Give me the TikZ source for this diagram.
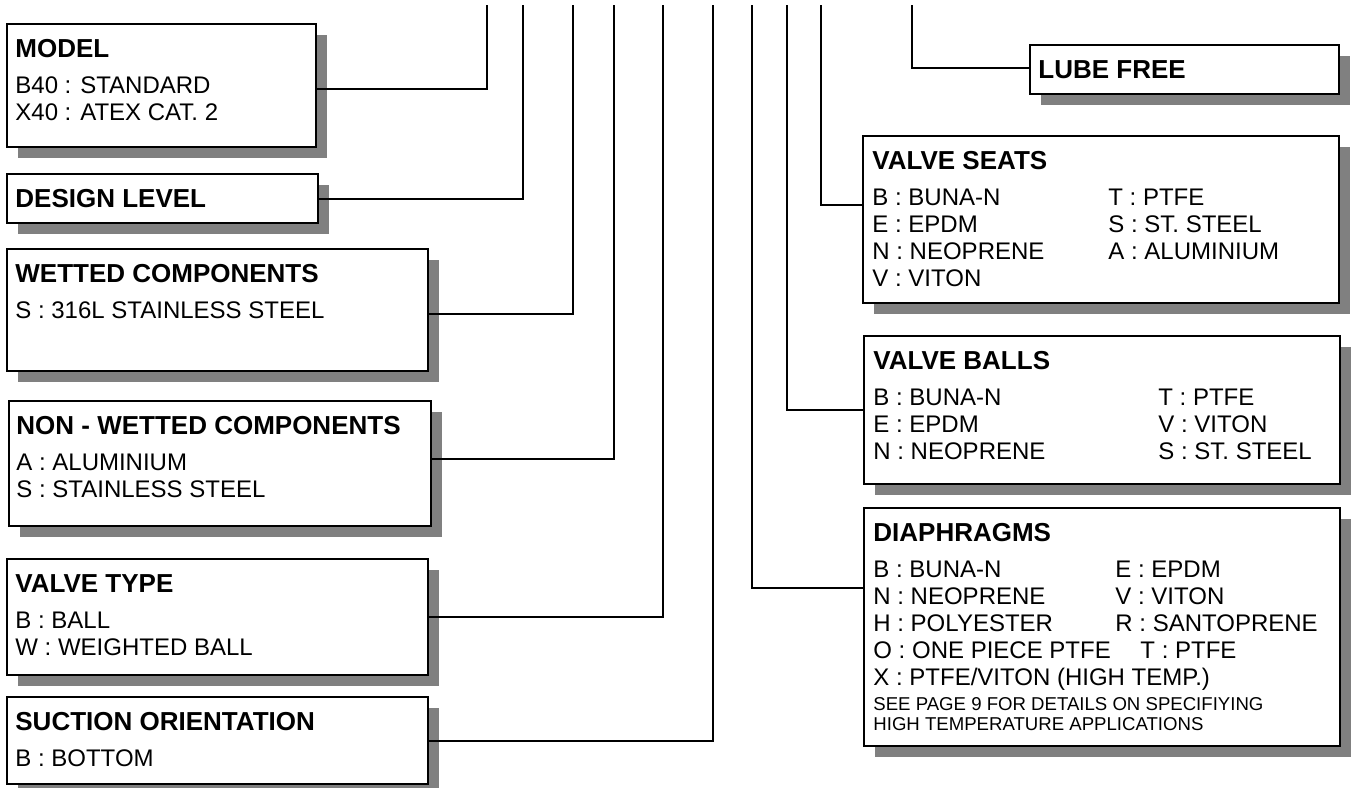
\documentclass[tikz,border=0pt]{standalone}
\usepackage{fontspec}
\setmainfont{Liberation Sans}
\usetikzlibrary{positioning,shadows}
\definecolor{shade}{gray}{0.5}
\begin{document}
\begin{tikzpicture}[x=0.5pt,y=-0.5pt,
  box/.style={draw, line width=1.1pt, fill=white, anchor=north west, inner sep=0pt,
    drop shadow={shadow xshift=5.5pt, shadow yshift=-5.5pt, fill=shade, opacity=1}},
  head/.style={anchor=base west, inner sep=0pt, font=\fontsize{13}{15}\selectfont\bfseries},
  body/.style={anchor=base west, inner sep=0pt, font=\fontsize{12}{13.5}\selectfont},
  note/.style={anchor=base west, inner sep=0pt, font=\fontsize{9.3}{10}\selectfont},
  wire/.style={line width=1pt}]
\useasboundingbox (0,0) rectangle (1352,787);

% left column
\node[box, minimum width=154.5pt, minimum height=61.5pt] (model) at (6,23) {};
\node[head] (modelhead) at ([shift={(9,34)}]model.north west) {MODEL};
\node[body] (modelbody) at ([shift={(0,36)}]modelhead.base west)
  {\begin{tabular}[t]{@{}l@{}}B40 : STANDARD\\X40 : ATEX CAT. 2\end{tabular}};

\node[box, minimum width=155.5pt, minimum height=24.5pt] (design) at (6,173) {};
\node[head] (designhead) at ([shift={(9,34)}]design.north west) {DESIGN LEVEL};

\node[box, minimum width=210.5pt, minimum height=61pt] (wetted) at (6,248) {};
\node[head] (wettedhead) at ([shift={(9,34)}]wetted.north west) {WETTED COMPONENTS};
\node[body] (wettedbody) at ([shift={(0,36)}]wettedhead.base west)
  {\begin{tabular}[t]{@{}l@{}}S : 316L STAINLESS STEEL\end{tabular}};

\node[box, minimum width=211pt, minimum height=62.5pt] (nonwet) at (8,400) {};
\node[head] (nonwethead) at ([shift={(8,34)}]nonwet.north west) {NON - WETTED COMPONENTS};
\node[body] (nonwetbody) at ([shift={(0,36)}]nonwethead.base west)
  {\begin{tabular}[t]{@{}l@{}}A : ALUMINIUM\\S : STAINLESS STEEL\end{tabular}};

\node[box, minimum width=210.5pt, minimum height=58pt] (vtype) at (6,558) {};
\node[head] (vtypehead) at ([shift={(9,34)}]vtype.north west) {VALVE TYPE};
\node[body] (vtypebody) at ([shift={(0,36)}]vtypehead.base west)
  {\begin{tabular}[t]{@{}l@{}}B : BALL\\W : WEIGHTED BALL\end{tabular}};

\node[box, minimum width=210.5pt, minimum height=43.5pt] (suction) at (6,696) {};
\node[head] (suctionhead) at ([shift={(9,34)}]suction.north west) {SUCTION ORIENTATION};
\node[body] (suctionbody) at ([shift={(0,36)}]suctionhead.base west)
  {\begin{tabular}[t]{@{}l@{}}B : BOTTOM\end{tabular}};

% right column
\node[box, minimum width=154.5pt, minimum height=24.5pt] (lube) at (1029,44) {};
\node[head] (lubehead) at ([shift={(9,34)}]lube.north west) {LUBE FREE};

\node[box, minimum width=238pt, minimum height=83.5pt] (seats) at (862,135) {};
\node[head] (seatshead) at ([shift={(10,34)}]seats.north west) {VALVE SEATS};
\node[body] (seatsbody) at ([shift={(0,36)}]seatshead.base west)
  {\begin{tabular}[t]{@{}p{118pt}@{}l@{}}
   B : BUNA-N & T : PTFE\\
   E : EPDM & S : ST. STEEL\\
   N : NEOPRENE & A : ALUMINIUM\\
   V : VITON &
   \end{tabular}};

\node[box, minimum width=238pt, minimum height=74pt] (balls) at (863,335) {};
\node[head] (ballshead) at ([shift={(10,34)}]balls.north west) {VALVE BALLS};
\node[body] (ballsbody) at ([shift={(0,36)}]ballshead.base west)
  {\begin{tabular}[t]{@{}p{142.5pt}@{}l@{}}
   B : BUNA-N & T : PTFE\\
   E : EPDM & V : VITON\\
   N : NEOPRENE & S : ST. STEEL
   \end{tabular}};

\node[box, minimum width=238pt, minimum height=119pt] (diaph) at (863,507) {};
\node[head] (diaphhead) at ([shift={(10,34)}]diaph.north west) {DIAPHRAGMS};
\node[body] (diaphbody) at ([shift={(0,36)}]diaphhead.base west)
  {\begin{tabular}[t]{@{}p{121pt}@{}l@{}}
   B : BUNA-N & E : EPDM\\
   N : NEOPRENE & V : VITON\\
   H : POLYESTER & R : SANTOPRENE\\
   O : ONE PIECE PTFE & \hspace{12.5pt}T : PTFE\\
   \multicolumn{2}{@{}l@{}}{X : PTFE/VITON (HIGH TEMP.)}
   \end{tabular}};
\node[note] (diaphnote) at ([shift={(0,133)}]diaphbody.base west)
  {\begin{tabular}[t]{@{}l@{}}SEE PAGE 9 FOR DETAILS ON SPECIFIYING\\HIGH TEMPERATURE APPLICATIONS\end{tabular}};

% leads up to the code
\coordinate (modeltop) at (487,5);
\coordinate (designtop) at (523,5);
\coordinate (wettedtop) at (573,5);
\coordinate (nonwettop) at (614,5);
\coordinate (vtypetop) at (663,5);
\coordinate (suctiontop) at (713,5);
\coordinate (diaphtop) at (752,5);
\coordinate (ballstop) at (787,5);
\coordinate (seatstop) at (821,5);
\coordinate (lubetop) at (912,5);

\draw[wire] (modeltop) |- ([yshift=-1.5pt]model.east);
\draw[wire] (designtop) |- (design.east);
\draw[wire] (wettedtop) |- ([yshift=-2pt]wetted.east);
\draw[wire] (nonwettop) |- ([yshift=2.5pt]nonwet.east);
\draw[wire] (vtypetop) |- (vtype.east);
\draw[wire] (suctiontop) |- (suction.east);
\draw[wire] (diaphtop) |- ([yshift=19.5pt]diaph.west);
\draw[wire] (ballstop) |- (balls.west);
\draw[wire] (seatstop) |- ([yshift=7.25pt]seats.west);
\draw[wire] (lubetop) |- ([yshift=1pt]lube.west);

\end{tikzpicture}
\end{document}
